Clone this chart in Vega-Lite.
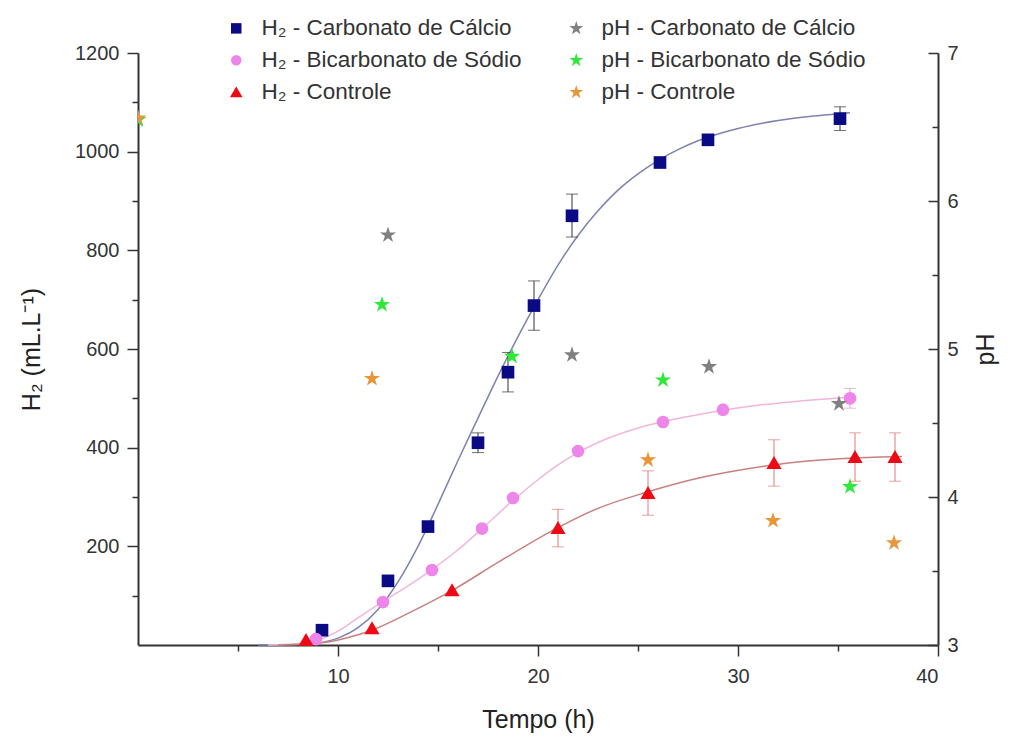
{
  "$schema": "https://vega.github.io/schema/vega-lite/v6.json",
  "width": 800,
  "height": 592,
  "autosize": {"type": "none"},
  "padding": {"left": 138, "top": 53, "right": 72, "bottom": 93},
  "background": "white",
  "config": {
    "view": {"stroke": null},
    "axis": {
      "domainColor": "#333333", "domainWidth": 2,
      "tickColor": "#333333", "tickWidth": 1.5,
      "labelColor": "#333333", "labelFont": "Liberation Sans", "labelFontSize": 20,
      "titleFont": "Liberation Sans", "titleFontSize": 25, "titleFontWeight": "normal", "titleColor": "#222222",
      "grid": false
    },
    "legend": {
      "labelFont": "Liberation Sans", "labelFontSize": 22.5, "labelColor": "#333333", "labelLimit": 500
    }
  },
  "datasets": {
    "h2": [
      {"t": 9.2, "h2": 30, "series": "H₂ - Carbonato de Cálcio"},
      {"t": 12.5, "h2": 130, "series": "H₂ - Carbonato de Cálcio"},
      {"t": 14.5, "h2": 240, "series": "H₂ - Carbonato de Cálcio"},
      {"t": 17.0, "h2": 410, "lo": 390, "hi": 430, "series": "H₂ - Carbonato de Cálcio"},
      {"t": 18.5, "h2": 553, "lo": 513, "hi": 593, "series": "H₂ - Carbonato de Cálcio"},
      {"t": 19.8, "h2": 688, "lo": 638, "hi": 738, "series": "H₂ - Carbonato de Cálcio"},
      {"t": 21.7, "h2": 870, "lo": 827, "hi": 914, "series": "H₂ - Carbonato de Cálcio"},
      {"t": 26.1, "h2": 978, "series": "H₂ - Carbonato de Cálcio"},
      {"t": 28.5, "h2": 1024, "series": "H₂ - Carbonato de Cálcio"},
      {"t": 35.1, "h2": 1067, "lo": 1043, "hi": 1091, "series": "H₂ - Carbonato de Cálcio"},
      {"t": 8.9, "h2": 12, "series": "H₂ - Bicarbonato de Sódio"},
      {"t": 12.25, "h2": 87, "series": "H₂ - Bicarbonato de Sódio"},
      {"t": 14.7, "h2": 152, "series": "H₂ - Bicarbonato de Sódio"},
      {"t": 17.2, "h2": 236, "series": "H₂ - Bicarbonato de Sódio"},
      {"t": 18.75, "h2": 298, "series": "H₂ - Bicarbonato de Sódio"},
      {"t": 22.0, "h2": 393, "series": "H₂ - Bicarbonato de Sódio"},
      {"t": 26.25, "h2": 452, "series": "H₂ - Bicarbonato de Sódio"},
      {"t": 29.25, "h2": 477, "series": "H₂ - Bicarbonato de Sódio"},
      {"t": 35.6, "h2": 500, "lo": 480, "hi": 520, "series": "H₂ - Bicarbonato de Sódio"},
      {"t": 8.4, "h2": 10, "series": "H₂ - Controle"},
      {"t": 11.7, "h2": 34, "series": "H₂ - Controle"},
      {"t": 15.7, "h2": 111, "series": "H₂ - Controle"},
      {"t": 21.0, "h2": 237, "lo": 199, "hi": 275, "series": "H₂ - Controle"},
      {"t": 25.5, "h2": 308, "lo": 263, "hi": 353, "series": "H₂ - Controle"},
      {"t": 31.8, "h2": 369, "lo": 322, "hi": 416, "series": "H₂ - Controle"},
      {"t": 35.85, "h2": 381, "lo": 332, "hi": 430, "series": "H₂ - Controle"},
      {"t": 37.85, "h2": 381, "lo": 332, "hi": 430, "series": "H₂ - Controle"}
    ],
    "ph": [
      {"t": 0, "ph": 6.55, "series": "pH - Carbonato de Cálcio"},
      {"t": 12.5, "ph": 5.77, "series": "pH - Carbonato de Cálcio"},
      {"t": 21.7, "ph": 4.96, "series": "pH - Carbonato de Cálcio"},
      {"t": 28.55, "ph": 4.88, "series": "pH - Carbonato de Cálcio"},
      {"t": 35.05, "ph": 4.63, "series": "pH - Carbonato de Cálcio"},
      {"t": 0, "ph": 6.55, "series": "pH - Bicarbonato de Sódio"},
      {"t": 12.2, "ph": 5.30, "series": "pH - Bicarbonato de Sódio"},
      {"t": 18.7, "ph": 4.95, "series": "pH - Bicarbonato de Sódio"},
      {"t": 26.25, "ph": 4.79, "series": "pH - Bicarbonato de Sódio"},
      {"t": 35.6, "ph": 4.07, "series": "pH - Bicarbonato de Sódio"},
      {"t": 0, "ph": 6.56, "series": "pH - Controle"},
      {"t": 11.7, "ph": 4.80, "series": "pH - Controle"},
      {"t": 25.5, "ph": 4.25, "series": "pH - Controle"},
      {"t": 31.75, "ph": 3.84, "series": "pH - Controle"},
      {"t": 37.8, "ph": 3.69, "series": "pH - Controle"}
    ],
    "curves": [
      {"t": 6, "h2": 0, "curve": "carb"},
      {"t": 8, "h2": 1, "curve": "carb"},
      {"t": 9, "h2": 4, "curve": "carb"},
      {"t": 10, "h2": 14, "curve": "carb"},
      {"t": 11, "h2": 35, "curve": "carb"},
      {"t": 12, "h2": 72, "curve": "carb"},
      {"t": 13, "h2": 128, "curve": "carb"},
      {"t": 14, "h2": 200, "curve": "carb"},
      {"t": 15, "h2": 285, "curve": "carb"},
      {"t": 16, "h2": 374, "curve": "carb"},
      {"t": 17, "h2": 460, "curve": "carb"},
      {"t": 18, "h2": 545, "curve": "carb"},
      {"t": 19, "h2": 625, "curve": "carb"},
      {"t": 20, "h2": 700, "curve": "carb"},
      {"t": 21, "h2": 770, "curve": "carb"},
      {"t": 22, "h2": 830, "curve": "carb"},
      {"t": 23, "h2": 880, "curve": "carb"},
      {"t": 24, "h2": 922, "curve": "carb"},
      {"t": 25, "h2": 955, "curve": "carb"},
      {"t": 26, "h2": 982, "curve": "carb"},
      {"t": 27, "h2": 1004, "curve": "carb"},
      {"t": 28, "h2": 1022, "curve": "carb"},
      {"t": 30, "h2": 1047, "curve": "carb"},
      {"t": 32, "h2": 1063, "curve": "carb"},
      {"t": 34, "h2": 1073, "curve": "carb"},
      {"t": 35.6, "h2": 1079, "curve": "carb"},
      {"t": 6.5, "h2": 0, "curve": "bic"},
      {"t": 8, "h2": 3, "curve": "bic"},
      {"t": 9, "h2": 10, "curve": "bic"},
      {"t": 10, "h2": 28, "curve": "bic"},
      {"t": 11, "h2": 55, "curve": "bic"},
      {"t": 12.2, "h2": 87, "curve": "bic"},
      {"t": 13.5, "h2": 120, "curve": "bic"},
      {"t": 14.7, "h2": 153, "curve": "bic"},
      {"t": 16, "h2": 193, "curve": "bic"},
      {"t": 17.2, "h2": 236, "curve": "bic"},
      {"t": 18.75, "h2": 293, "curve": "bic"},
      {"t": 20, "h2": 335, "curve": "bic"},
      {"t": 21, "h2": 365, "curve": "bic"},
      {"t": 22, "h2": 390, "curve": "bic"},
      {"t": 23.5, "h2": 419, "curve": "bic"},
      {"t": 25, "h2": 440, "curve": "bic"},
      {"t": 26.2, "h2": 452, "curve": "bic"},
      {"t": 27.5, "h2": 463, "curve": "bic"},
      {"t": 29.25, "h2": 476, "curve": "bic"},
      {"t": 31, "h2": 486, "curve": "bic"},
      {"t": 33, "h2": 494, "curve": "bic"},
      {"t": 35.9, "h2": 503, "curve": "bic"},
      {"t": 7, "h2": 0, "curve": "ctrl"},
      {"t": 8.5, "h2": 2, "curve": "ctrl"},
      {"t": 9.5, "h2": 6, "curve": "ctrl"},
      {"t": 10.5, "h2": 15, "curve": "ctrl"},
      {"t": 11.75, "h2": 31, "curve": "ctrl"},
      {"t": 13.5, "h2": 64, "curve": "ctrl"},
      {"t": 15.6, "h2": 108, "curve": "ctrl"},
      {"t": 18.1, "h2": 170, "curve": "ctrl"},
      {"t": 20.95, "h2": 237, "curve": "ctrl"},
      {"t": 23, "h2": 277, "curve": "ctrl"},
      {"t": 25.45, "h2": 310, "curve": "ctrl"},
      {"t": 28.1, "h2": 339, "curve": "ctrl"},
      {"t": 29.6, "h2": 351, "curve": "ctrl"},
      {"t": 31.75, "h2": 365, "curve": "ctrl"},
      {"t": 33.5, "h2": 373, "curve": "ctrl"},
      {"t": 35.75, "h2": 379, "curve": "ctrl"},
      {"t": 38.2, "h2": 382, "curve": "ctrl"}
    ]
  },
  "encoding": {
    "x": {
      "field": "t", "type": "quantitative",
      "scale": {"domain": [0, 40], "nice": false, "zero": false},
      "axis": {
        "title": "Tempo (h)", "values": [5, 10, 15, 20, 25, 30, 35, 40],
        "labelExpr": "datum.value % 10 === 0 ? format(datum.value, 'd') : ''",
        "tickSize": {"condition": {"test": "datum.value % 10 === 0", "value": 11}, "value": 6},
        "labelPadding": 10, "titlePadding": 21
      }
    }
  },
  "layer": [
    {
      "layer": [
        {
          "data": {"name": "curves"},
          "transform": [{"filter": "datum.curve === 'carb'"}],
          "mark": {"type": "line", "interpolate": "monotone", "color": "#7d82b2", "strokeWidth": 1.5},
          "encoding": {
            "y": {"field": "h2", "type": "quantitative", "scale": {"domain": [0, 1200], "nice": false},
              "axis": {"title": "H₂ (mL.L⁻¹)", "values": [100, 200, 300, 400, 500, 600, 700, 800, 900, 1000, 1100, 1200],
                "labelExpr": "datum.value % 200 === 0 ? format(datum.value, 'd') : ''",
                "tickSize": {"condition": {"test": "datum.value % 200 === 0", "value": 11}, "value": 6},
                "labelPadding": 8, "titlePadding": 30}}
          }
        },
        {
          "data": {"name": "curves"},
          "transform": [{"filter": "datum.curve === 'bic'"}],
          "mark": {"type": "line", "interpolate": "monotone", "color": "#f2b6da", "strokeWidth": 1.5},
          "encoding": {
            "y": {"field": "h2", "type": "quantitative", "scale": {"domain": [0, 1200], "nice": false},
              "axis": {"title": "H₂ (mL.L⁻¹)", "values": [100, 200, 300, 400, 500, 600, 700, 800, 900, 1000, 1100, 1200],
                "labelExpr": "datum.value % 200 === 0 ? format(datum.value, 'd') : ''",
                "tickSize": {"condition": {"test": "datum.value % 200 === 0", "value": 11}, "value": 6},
                "labelPadding": 8, "titlePadding": 30}}
          }
        },
        {
          "data": {"name": "curves"},
          "transform": [{"filter": "datum.curve === 'ctrl'"}],
          "mark": {"type": "line", "interpolate": "monotone", "color": "#c98080", "strokeWidth": 1.5},
          "encoding": {
            "y": {"field": "h2", "type": "quantitative", "scale": {"domain": [0, 1200], "nice": false},
              "axis": {"title": "H₂ (mL.L⁻¹)", "values": [100, 200, 300, 400, 500, 600, 700, 800, 900, 1000, 1100, 1200],
                "labelExpr": "datum.value % 200 === 0 ? format(datum.value, 'd') : ''",
                "tickSize": {"condition": {"test": "datum.value % 200 === 0", "value": 11}, "value": 6},
                "labelPadding": 8, "titlePadding": 30}}
          }
        },
        {
          "data": {"name": "h2"},
          "transform": [{"filter": "datum.lo != null && datum.series === 'H₂ - Carbonato de Cálcio'"}],
          "mark": {"type": "errorbar", "color": "#333333", "thickness": 1, "ticks": {"size": 12, "thickness": 1}},
          "encoding": {
            "y": {"field": "lo", "type": "quantitative", "scale": {"domain": [0, 1200], "nice": false},
              "axis": {"title": "H₂ (mL.L⁻¹)", "values": [100, 200, 300, 400, 500, 600, 700, 800, 900, 1000, 1100, 1200],
                "labelExpr": "datum.value % 200 === 0 ? format(datum.value, 'd') : ''",
                "tickSize": {"condition": {"test": "datum.value % 200 === 0", "value": 11}, "value": 6},
                "labelPadding": 8, "titlePadding": 30}},
            "y2": {"field": "hi"}
          }
        },
        {
          "data": {"name": "h2"},
          "transform": [{"filter": "datum.lo != null && datum.series === 'H₂ - Bicarbonato de Sódio'"}],
          "mark": {"type": "errorbar", "color": "#e79ad6", "thickness": 1, "ticks": {"size": 12, "thickness": 1}},
          "encoding": {
            "y": {"field": "lo", "type": "quantitative", "scale": {"domain": [0, 1200], "nice": false},
              "axis": {"title": "H₂ (mL.L⁻¹)", "values": [100, 200, 300, 400, 500, 600, 700, 800, 900, 1000, 1100, 1200],
                "labelExpr": "datum.value % 200 === 0 ? format(datum.value, 'd') : ''",
                "tickSize": {"condition": {"test": "datum.value % 200 === 0", "value": 11}, "value": 6},
                "labelPadding": 8, "titlePadding": 30}},
            "y2": {"field": "hi"}
          }
        },
        {
          "data": {"name": "h2"},
          "transform": [{"filter": "datum.lo != null && datum.series === 'H₂ - Controle'"}],
          "mark": {"type": "errorbar", "color": "#e07a7a", "thickness": 1, "ticks": {"size": 12, "thickness": 1}},
          "encoding": {
            "y": {"field": "lo", "type": "quantitative", "scale": {"domain": [0, 1200], "nice": false},
              "axis": {"title": "H₂ (mL.L⁻¹)", "values": [100, 200, 300, 400, 500, 600, 700, 800, 900, 1000, 1100, 1200],
                "labelExpr": "datum.value % 200 === 0 ? format(datum.value, 'd') : ''",
                "tickSize": {"condition": {"test": "datum.value % 200 === 0", "value": 11}, "value": 6},
                "labelPadding": 8, "titlePadding": 30}},
            "y2": {"field": "hi"}
          }
        },
        {
          "data": {"name": "h2"},
          "mark": {"type": "point", "filled": true, "opacity": 1, "size": 160},
          "encoding": {
            "y": {"field": "h2", "type": "quantitative", "scale": {"domain": [0, 1200], "nice": false},
              "axis": {"title": "H₂ (mL.L⁻¹)", "values": [100, 200, 300, 400, 500, 600, 700, 800, 900, 1000, 1100, 1200],
                "labelExpr": "datum.value % 200 === 0 ? format(datum.value, 'd') : ''",
                "tickSize": {"condition": {"test": "datum.value % 200 === 0", "value": 11}, "value": 6},
                "labelPadding": 8, "titlePadding": 30}},
            "color": {
              "field": "series", "type": "nominal",
              "scale": {
                "domain": ["H₂ - Carbonato de Cálcio", "H₂ - Bicarbonato de Sódio", "H₂ - Controle", "pH - Carbonato de Cálcio", "pH - Bicarbonato de Sódio", "pH - Controle"],
                "range": ["#0a0a85", "#ee86ea", "#ee0a14", "#808080", "#2ee83a", "#e8963a"]
              },
              "legend": {"title": null, "orient": "none", "legendX": 87, "legendY": -36, "columns": 2, "columnPadding": 43, "rowPadding": 9, "labelOffset": 14, "symbolSize": 110, "symbolStrokeWidth": 0}
            },
            "shape": {
              "field": "series", "type": "nominal",
              "scale": {
                "domain": ["H₂ - Carbonato de Cálcio", "H₂ - Bicarbonato de Sódio", "H₂ - Controle", "pH - Carbonato de Cálcio", "pH - Bicarbonato de Sódio", "pH - Controle"],
                "range": ["square", "circle", "M0,-1.1L1.2,0.95L-1.2,0.95Z", "M0,-1.4L0.314,-0.433L1.331,-0.433L0.508,0.165L0.823,1.133L0,0.535L-0.823,1.133L-0.508,0.165L-1.331,-0.433L-0.314,-0.433Z", "M0,-1.4L0.314,-0.433L1.331,-0.433L0.508,0.165L0.823,1.133L0,0.535L-0.823,1.133L-0.508,0.165L-1.331,-0.433L-0.314,-0.433Z", "M0,-1.4L0.314,-0.433L1.331,-0.433L0.508,0.165L0.823,1.133L0,0.535L-0.823,1.133L-0.508,0.165L-1.331,-0.433L-0.314,-0.433Z"]
              },
              "legend": {"title": null, "orient": "none", "legendX": 87, "legendY": -36, "columns": 2, "columnPadding": 43, "rowPadding": 9, "labelOffset": 14, "symbolSize": 110, "symbolStrokeWidth": 0}
            }
          }
        }
      ]
    },
    {
      "data": {"name": "ph"},
      "mark": {"type": "point", "filled": true, "opacity": 1, "size": 150, "clip": true},
      "encoding": {
        "y": {"field": "ph", "type": "quantitative", "scale": {"domain": [3, 7], "nice": false, "zero": false},
          "axis": {"title": "pH", "orient": "right", "values": [3, 3.5, 4, 4.5, 5, 5.5, 6, 6.5, 7],
            "labelExpr": "datum.value % 1 === 0 ? format(datum.value, 'd') : ''",
            "tickSize": {"condition": {"test": "datum.value % 1 === 0", "value": -10}, "value": -6},
            "labelPadding": 19, "titlePadding": 40, "titleAngle": 270}},
        "color": {
          "field": "series", "type": "nominal",
          "scale": {
            "domain": ["H₂ - Carbonato de Cálcio", "H₂ - Bicarbonato de Sódio", "H₂ - Controle", "pH - Carbonato de Cálcio", "pH - Bicarbonato de Sódio", "pH - Controle"],
            "range": ["#0a0a85", "#ee86ea", "#ee0a14", "#808080", "#2ee83a", "#e8963a"]
          },
          "legend": {"title": null, "orient": "none", "legendX": 87, "legendY": -36, "columns": 2, "columnPadding": 43, "rowPadding": 9, "labelOffset": 14, "symbolSize": 110, "symbolStrokeWidth": 0}
        },
        "shape": {
          "field": "series", "type": "nominal",
          "scale": {
            "domain": ["H₂ - Carbonato de Cálcio", "H₂ - Bicarbonato de Sódio", "H₂ - Controle", "pH - Carbonato de Cálcio", "pH - Bicarbonato de Sódio", "pH - Controle"],
            "range": ["square", "circle", "M0,-1.1L1.2,0.95L-1.2,0.95Z", "M0,-1.4L0.314,-0.433L1.331,-0.433L0.508,0.165L0.823,1.133L0,0.535L-0.823,1.133L-0.508,0.165L-1.331,-0.433L-0.314,-0.433Z", "M0,-1.4L0.314,-0.433L1.331,-0.433L0.508,0.165L0.823,1.133L0,0.535L-0.823,1.133L-0.508,0.165L-1.331,-0.433L-0.314,-0.433Z", "M0,-1.4L0.314,-0.433L1.331,-0.433L0.508,0.165L0.823,1.133L0,0.535L-0.823,1.133L-0.508,0.165L-1.331,-0.433L-0.314,-0.433Z"]
          },
          "legend": {"title": null, "orient": "none", "legendX": 87, "legendY": -36, "columns": 2, "columnPadding": 43, "rowPadding": 9, "labelOffset": 14, "symbolSize": 110, "symbolStrokeWidth": 0}
        }
      }
    }
  ],
  "resolve": {"scale": {"y": "independent"}}
}
